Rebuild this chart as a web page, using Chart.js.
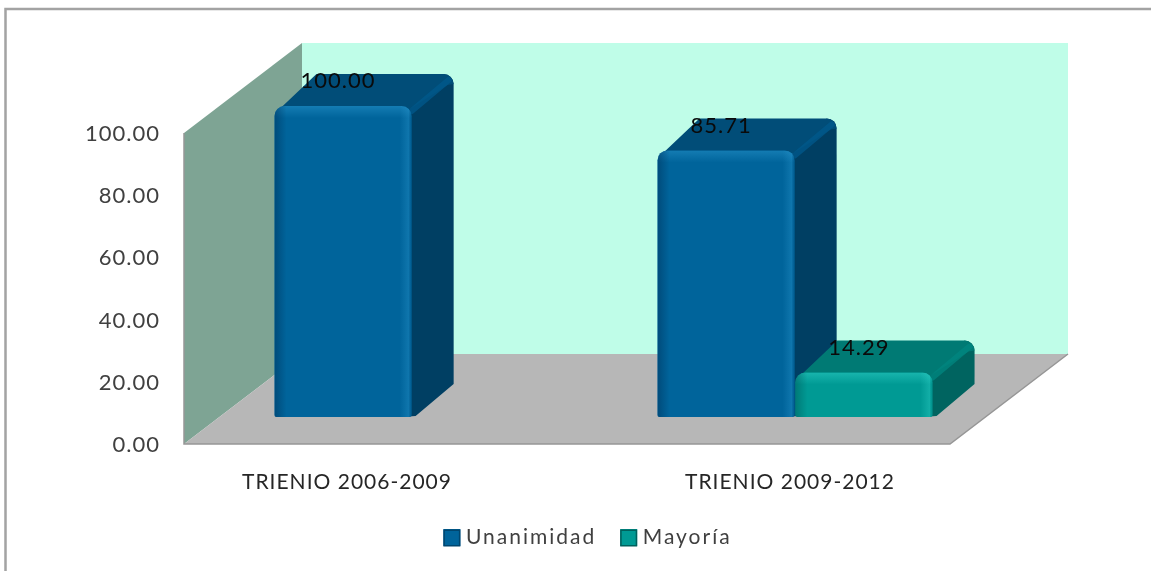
<!DOCTYPE html>
<html><head><meta charset="utf-8">
<style>html,body{margin:0;padding:0;background:#fff}canvas{display:block;filter:blur(.45px)}</style>
<script src="https://cdn.jsdelivr.net/npm/chart.js@4"></script>
</head><body><canvas id="c" width="1151" height="571"></canvas>
<script>
const categories = ['TRIENIO 2006-2009', 'TRIENIO 2009-2012'];
const unanimidad = [100.00, 85.71];
const mayoria = [null, 14.29];
const tickStep = 20;
const axisMax = 100;

const AREA = {l:184, r:950, t:133, b:444};
const DEPTH = {x:118, y:-90};
const SHIFT = {x:36.5, y:-27};
const BAR = {x:42, y:-32, r:10, rb:2};
const LABEL_SHIFT = [-28.5, 31.5];
const faces = [
  {front:'#00649b', top:'#014d78', side:'#003f63', rim:'rgba(0,90,140,.75)', hi:'rgba(50,160,215,', lo:'rgba(0,50,90,', edge:'#00466f'},
  {front:'#009a94', top:'#007a74', side:'#006460', rim:'rgba(0,135,128,.75)', hi:'rgba(60,220,210,', lo:'rgba(0,90,90,', edge:'#00615d'}
];
const TEXT_SPACE = '1px', LEGEND_SPACE = '2px';
const corners = {topLeft:BAR.r,topRight:BAR.r,bottomLeft:BAR.rb,bottomRight:BAR.rb};
function spacing(chart, v){ chart.ctx.letterSpacing = v; }
function poly(ctx,pts){ ctx.beginPath(); pts.forEach((p,i)=>i?ctx.lineTo(p[0],p[1]):ctx.moveTo(p[0],p[1])); ctx.closePath(); }

const scene = {
  id:'scene',
  beforeLayout(chart){ spacing(chart,LEGEND_SPACE); },
  afterLayout(chart){ spacing(chart,TEXT_SPACE); },
  beforeDraw(chart){
    const ctx = chart.ctx, x = chart.scales.x;
    spacing(chart,TEXT_SPACE);
    ctx.save(); ctx.strokeStyle='#a3a3a3'; ctx.lineWidth=2.5;
    ctx.beginPath(); ctx.moveTo(5.5,571); ctx.lineTo(5.5,9); ctx.lineTo(1151,9); ctx.stroke(); ctx.restore();
    x._labelItems = null;
    x.getLabelItems().forEach((it,i)=>{ it.options.translation[0]+=LABEL_SHIFT[i]; });
    const lg = chart.legend;
    lg.left = 0; lg.right = 1180; lg.top = 498;
    if(!lg._wrapped){ const d = lg.draw.bind(lg);
      lg.draw = function(a){
        spacing(chart,LEGEND_SPACE); d(a); spacing(chart,TEXT_SPACE);
        const h0 = lg.legendHitBoxes;
        const total = h0[h0.length-1].left + h0[h0.length-1].width - h0[0].left;
        const start = (lg.left + lg.right - total)/2 - h0[0].left;
        h0.forEach((h,i)=>{
          ctx.save(); ctx.strokeStyle=faces[i].edge; ctx.lineWidth=1.5;
          ctx.strokeRect(h.left+start-5+.75, 538-8.5+.75, 15.5, 15.5); ctx.restore();
        });
      };
      lg._wrapped = true; }
  },
  beforeDatasetsDraw(chart){
    const ctx = chart.ctx, {left:l,right:r,top:t,bottom:b} = chart.chartArea;
    const bx = l+DEPTH.x, by = DEPTH.y;
    ctx.save();
    ctx.fillStyle='#bffde8'; ctx.fillRect(bx,t+by,r+DEPTH.x-bx,b-t);
    ctx.fillStyle='#7ea494'; poly(ctx,[[l,t],[bx,t+by],[bx,b+by],[l,b]]); ctx.fill();
    ctx.fillStyle='#b7b7b7'; poly(ctx,[[l,b],[bx,b+by],[r+DEPTH.x,b+by],[r,b]]); ctx.fill();
    ctx.strokeStyle='#969696'; ctx.lineWidth=1.5;
    ctx.beginPath(); ctx.moveTo(l,t); ctx.lineTo(l,b); ctx.lineTo(r,b); ctx.lineTo(r+DEPTH.x,b+by); ctx.stroke();
    ctx.restore();
    ctx.save(); ctx.translate(SHIFT.x,SHIFT.y);
    [0,1].forEach(d=>{
      chart.getDatasetMeta(d).data.forEach((el,i)=>{
        if(chart.data.datasets[d].data[i]==null) return;
        const x1=el.x+el.width/2, x0=el.x-el.width/2, y=el.y, base=el.base, R=BAR.r;
        const f=faces[d];
        ctx.fillStyle=f.side;
        ctx.beginPath(); ctx.moveTo(x1-R,y+4); ctx.lineTo(x1+BAR.x-R,y+BAR.y);
        ctx.arcTo(x1+BAR.x,y+BAR.y,x1+BAR.x,y+BAR.y+R,R);
        ctx.lineTo(x1+BAR.x,base+BAR.y-1); ctx.lineTo(x1+4,base-1); ctx.lineTo(x1-R,base); ctx.closePath(); ctx.fill();
        ctx.fillStyle=f.top;
        ctx.beginPath(); ctx.moveTo(x0+3,y+5); ctx.lineTo(x0+BAR.x,y+BAR.y);
        ctx.lineTo(x1+BAR.x-R,y+BAR.y); ctx.arcTo(x1+BAR.x,y+BAR.y,x1+BAR.x,y+BAR.y+R,R);
        ctx.lineTo(x1+BAR.x-6,y+BAR.y+11); ctx.lineTo(x1-R,y+8); ctx.closePath(); ctx.fill();
        ctx.strokeStyle=f.rim; ctx.lineWidth=6; ctx.lineCap='round';
        ctx.beginPath(); ctx.moveTo(x1,y+5); ctx.lineTo(x1+BAR.x-5,y+BAR.y+6); ctx.stroke();
      });
    });
  },
  afterDatasetsDraw(chart){
    const ctx = chart.ctx;
    [0,1].forEach(d=>{
      const ds = chart.data.datasets[d], f=faces[d];
      chart.getDatasetMeta(d).data.forEach((el,i)=>{
        const v = ds.data[i]; if(v==null) return;
        const x1=el.x+el.width/2, x0=el.x-el.width/2, y=el.y, base=el.base;
        ctx.save(); ctx.beginPath(); ctx.roundRect(x0,y,x1-x0,base-y,[BAR.r,BAR.r,BAR.rb,BAR.rb]); ctx.clip();
        let g=ctx.createLinearGradient(0,y,0,y+12); g.addColorStop(0,f.hi+'.4)'); g.addColorStop(1,f.hi+'0)');
        ctx.fillStyle=g; ctx.fillRect(x0,y,x1-x0,12);
        g=ctx.createLinearGradient(x1-12,0,x1,0); g.addColorStop(0,f.hi+'0)'); g.addColorStop(.75,f.hi+'.3)'); g.addColorStop(1,f.lo+'.1)');
        ctx.fillStyle=g; ctx.fillRect(x1-12,y,12,base-y);
        g=ctx.createLinearGradient(x0,0,x0+12,0); g.addColorStop(0,f.lo+'.5)'); g.addColorStop(1,f.lo+'0)');
        ctx.fillStyle=g; ctx.fillRect(x0,y,12,base-y);
        ctx.restore();
        ctx.save(); ctx.font='22px Lato'; ctx.fillStyle='#0a0a0a'; ctx.textAlign='center'; ctx.textBaseline='middle';
        ctx.fillText(v.toFixed(2), el.x-5, y-25); ctx.restore();
      });
    });
    ctx.restore();
  }
};

new Chart(document.getElementById('c'),{
  type:'bar',
  data:{labels:categories,datasets:[
    {label:'Unanimidad',data:unanimidad,backgroundColor:faces[0].front,borderColor:faces[0].front,borderWidth:0,borderRadius:corners,borderSkipped:false},
    {label:'Mayoría',data:mayoria,backgroundColor:faces[1].front,borderColor:faces[1].front,borderWidth:0,borderRadius:corners,borderSkipped:false}
  ]},
  options:{
    responsive:false,animation:false,
    layout:{padding:{left:0,top:AREA.t,right:1151-AREA.r,bottom:0}},
    datasets:{bar:{categoryPercentage:0.72,barPercentage:0.995}},
    plugins:{
      legend:{position:'bottom',labels:{boxWidth:7,boxHeight:7,padding:29,color:'#404040',font:{family:'Lato',size:21},
        generateLabels(chart){ return chart.data.datasets.map((ds,i)=>({text:ds.label,fillStyle:ds.backgroundColor,strokeStyle:ds.backgroundColor,lineWidth:10,datasetIndex:i,hidden:false,fontColor:'#404040'})); }}},
      tooltip:{enabled:false},title:{display:false}},
    scales:{
      x:{grid:{display:false},border:{display:false},
        ticks:{color:'#262626',font:{family:'Lato',size:21},padding:18,maxRotation:0,autoSkip:false},
        afterFit(s){ s.height=67; }},
      y:{min:0,max:axisMax,grid:{display:false},border:{display:false},
        ticks:{stepSize:tickStep,color:'#404040',font:{family:'Lato',size:22},padding:16,labelOffset:1,callback:v=>v.toFixed(2)},
        afterFit(s){ s.width=AREA.l; }}
    }
  },
  plugins:[scene]
});
</script></body></html>
